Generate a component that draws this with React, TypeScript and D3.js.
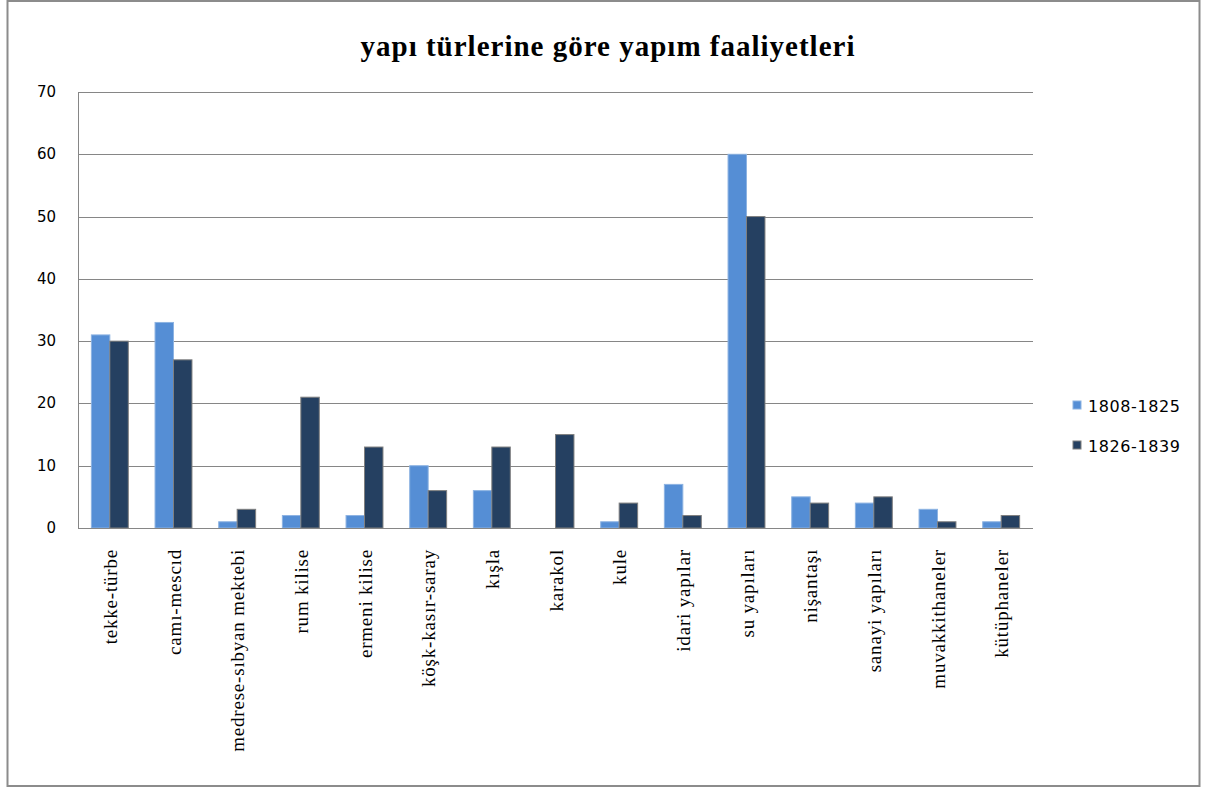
import React from "react";
import * as d3 from "d3";

const categories = [
  "tekke-türbe",
  "camı-mescıd",
  "medrese-sıbyan mektebi",
  "rum kilise",
  "ermeni kilise",
  "köşk-kasır-saray",
  "kışla",
  "karakol",
  "kule",
  "idari yapılar",
  "su yapıları",
  "nişantaşı",
  "sanayi yapıları",
  "muvakkithaneler",
  "kütüphaneler",
];
const series1808 = [31, 33, 1, 2, 2, 10, 6, 0, 1, 7, 60, 5, 4, 3, 1];
const series1826 = [30, 27, 3, 21, 13, 6, 13, 15, 4, 2, 50, 4, 5, 1, 2];
const seriesNames = ["1808-1825", "1826-1839"];
const yTicks = [0, 10, 20, 30, 40, 50, 60, 70];
const title = "yapı türlerine göre yapım faaliyetleri";

const W = 1209;
const H = 787;
const plot = { left: 78, right: 1033, top: 92, bottom: 528 };
const colors = ["#558ed5", "#254061"];
const strokes = ["#8db3e2", "#7f7f7f"];

export default function App() {
  const x = d3
    .scaleBand<string>()
    .domain(categories)
    .range([plot.left, plot.right])
    .paddingInner(0.42)
    .paddingOuter(0.21);
  const inner = d3
    .scaleBand<number>()
    .domain([0, 1])
    .range([0, x.bandwidth()]);
  const y = d3.scaleLinear().domain([0, 70]).range([plot.bottom, plot.top]);
  const data = [series1808, series1826];
  const catW = (plot.right - plot.left) / categories.length;

  return (
    <svg
      width={W}
      height={H}
      style={{ position: "absolute", left: 0, top: 0, background: "#fff" }}
    >
      <rect x={0} y={0} width={W} height={H} fill="#fff" />
      <rect
        x={7.5}
        y={1}
        width={1192}
        height={785}
        fill="#fff"
        stroke="#8c8c8c"
        strokeWidth={2}
      />
      <text
        x={(W + 7) / 2}
        y={56}
        textAnchor="middle"
        fontFamily="'Liberation Serif', 'Times New Roman', serif"
        fontWeight="bold"
        fontSize={29}
        letterSpacing={1}
        fill="#000"
      >
        {title}
      </text>
      {yTicks.map((t) => (
        <g key={t}>
          {t > 0 && (
            <line
              x1={plot.left}
              x2={plot.right}
              y1={Math.round(y(t)) + 0.5}
              y2={Math.round(y(t)) + 0.5}
              stroke="#868686"
              strokeWidth={1}
            />
          )}
          <text
            x={56}
            y={y(t) + 5}
            textAnchor="end"
            fontFamily="'DejaVu Sans', Verdana, sans-serif"
            fontSize={15}
            fill="#000"
          >
            {t}
          </text>
        </g>
      ))}
      {categories.map((c, i) => (
        <g key={c}>
          {data.map((s, k) => {
            const v = s[i];
            if (v <= 0) return null;
            return (
              <rect
                key={k}
                x={(x(c) as number) + (inner(k) as number)}
                y={y(v)}
                width={inner.bandwidth()}
                height={plot.bottom - y(v)}
                fill={colors[k]}
                stroke={strokes[k]}
                strokeWidth={1}
              />
            );
          })}
          <text
            transform={`translate(${plot.left + catW * (i + 0.5) + 7},549) rotate(-90)`}
            textAnchor="end"
            fontFamily="'Liberation Serif', 'Times New Roman', serif"
            fontSize={19}
            letterSpacing={0.8}
            fill="#000"
          >
            {c}
          </text>
        </g>
      ))}
      <line
        x1={plot.left + 0.5}
        x2={plot.left + 0.5}
        y1={plot.top}
        y2={plot.bottom}
        stroke="#868686"
      />
      <line
        x1={plot.left}
        x2={plot.right}
        y1={plot.bottom + 0.5}
        y2={plot.bottom + 0.5}
        stroke="#868686"
      />
      {seriesNames.map((n, k) => (
        <g key={n}>
          <rect
            x={1073}
            y={401 + k * 40}
            width={8}
            height={8}
            fill={colors[k]}
            stroke={strokes[k]}
          />
          <text
            x={1088}
            y={412 + k * 40}
            fontFamily="'DejaVu Sans', Verdana, sans-serif"
            fontSize={16}
            letterSpacing={0.6}
            fill="#000"
          >
            {n}
          </text>
        </g>
      ))}
    </svg>
  );
}
